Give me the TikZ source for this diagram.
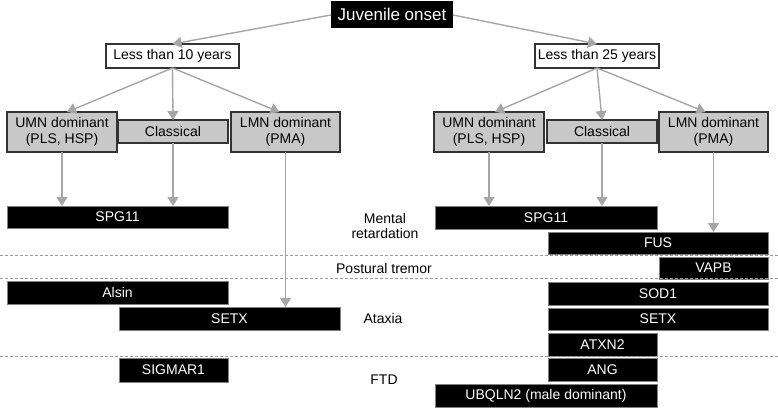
\documentclass[tikz,border=0pt]{standalone}
\usepackage{fontspec}
\setmainfont{Liberation Sans}
\usetikzlibrary{arrows.meta}
\definecolor{arr}{HTML}{A6A6A6}
\definecolor{boxgray}{HTML}{C8C8C8}
\definecolor{edge}{HTML}{333333}
\definecolor{dashgray}{HTML}{9A9A9A}
\begin{document}
\begin{tikzpicture}[x=1pt,y=-1pt,
  every node/.style={inner sep=0pt,outer sep=0pt,font=\fontsize{14}{16}\selectfont},
  topbox/.style={fill=black,text=white,font=\fontsize{17}{19}\selectfont},
  agebox/.style={draw=edge,line width=1.2pt,fill=white},
  typebox/.style={draw=edge,line width=1.2pt,fill=boxgray,align=center,font=\fontsize{14}{15.5}\selectfont},
  bar/.style={fill=black,draw=gray,line width=0.6pt,text=white},
  lbl/.style={align=center,font=\fontsize{14}{15}\selectfont},
  arrow/.style={draw=arr,line width=1.4pt,-{Triangle[width=11pt,length=9pt]}},
  sep/.style={draw=dashgray,line width=0.9pt,dash pattern=on 3pt off 2pt}]
\useasboundingbox (0,0) rectangle (778,409);
% top
\node[topbox,minimum width=122,minimum height=27] (jo) at (392,14.5) {Juvenile onset};
\node[agebox,minimum width=133,minimum height=24] (l10) at (172.5,56) {Less than 10 years};
\node[agebox,minimum width=124,minimum height=24] (l25) at (597,56) {Less than 25 years};
% types
\node[typebox,minimum width=110,minimum height=40] (umnL) at (62,132) {UMN dominant\\(PLS, HSP)};
\node[typebox,minimum width=110,minimum height=23] (classL) at (173,131.5) {Classical};
\node[typebox,minimum width=109,minimum height=40] (lmnL) at (285.5,132) {LMN dominant\\(PMA)};
\node[typebox,minimum width=110,minimum height=40] (umnR) at (489,132) {UMN dominant\\(PLS, HSP)};
\node[typebox,minimum width=110,minimum height=23] (classR) at (602,131.5) {Classical};
\node[typebox,minimum width=109,minimum height=40] (lmnR) at (713.5,132) {LMN dominant\\(PMA)};
% bars
\node[bar,minimum width=221,minimum height=22] (spgL) at (117.5,217) {SPG11};
\node[bar,minimum width=221,minimum height=23] (alsin) at (117.5,292.5) {Alsin};
\node[bar,minimum width=221,minimum height=23] (setxL) at (229.5,318.5) {SETX};
\node[bar,minimum width=109,minimum height=24] (sigmar) at (173.5,370) {SIGMAR1};
\node[bar,minimum width=222,minimum height=23] (spgR) at (546,217.5) {SPG11};
\node[bar,minimum width=220,minimum height=22] (fus) at (658,243) {FUS};
\node[bar,minimum width=109,minimum height=22] (vapb) at (713.5,268) {VAPB};
\node[bar,minimum width=220,minimum height=23] (sod1) at (658,293.5) {SOD1};
\node[bar,minimum width=220,minimum height=22] (setxR) at (658,319) {SETX};
\node[bar,minimum width=109,minimum height=23] (atxn2) at (602.5,344.5) {ATXN2};
\node[bar,minimum width=109,minimum height=23] (ang) at (602.5,369.5) {ANG};
\node[bar,minimum width=222,minimum height=23] (ubq) at (546,395.5) {UBQLN2 (male dominant)};
% labels
\node[lbl] (mr) at (385,225.5) {Mental\\retardation};
\node[lbl] (pt) at (384,268) {Postural tremor};
\node[lbl] (ax) at (383,318) {Ataxia};
\node[lbl] (ftd) at (384,380) {FTD};
% separators
\draw[sep] (0,255) -- (778,255);
\draw[sep] (0,278) -- (778,278);
\draw[sep] (0,356) -- (778,356);
% arrows
\draw[arrow] ([yshift=-0.5pt]jo.west) -- (l10.north);
\draw[arrow] ([yshift=-0.5pt]jo.east) -- (l25.north);
\draw[arrow] (l10.south) -- ([xshift=5pt]umnL.north);
\draw[arrow] (l10.south) -- (classL.north);
\draw[arrow] (l10.south) -- ([xshift=-6pt]lmnL.north);
\draw[arrow] (l25.south) -- ([xshift=6pt]umnR.north);
\draw[arrow] (l25.south) -- (classR.north);
\draw[arrow] (l25.south) -- ([xshift=-8pt]lmnR.north);
\draw[arrow] (umnL.south) -- (umnL.south |- spgL.north);
\draw[arrow] (classL.south) -- (classL.south |- spgL.north);
\draw[arrow] (lmnL.south) -- (lmnL.south |- setxL.north);
\draw[arrow] (umnR.south) -- (umnR.south |- spgR.north);
\draw[arrow] (classR.south) -- (classR.south |- spgR.north);
\draw[arrow] (lmnR.south) -- (lmnR.south |- fus.north);
\end{tikzpicture}
\end{document}
